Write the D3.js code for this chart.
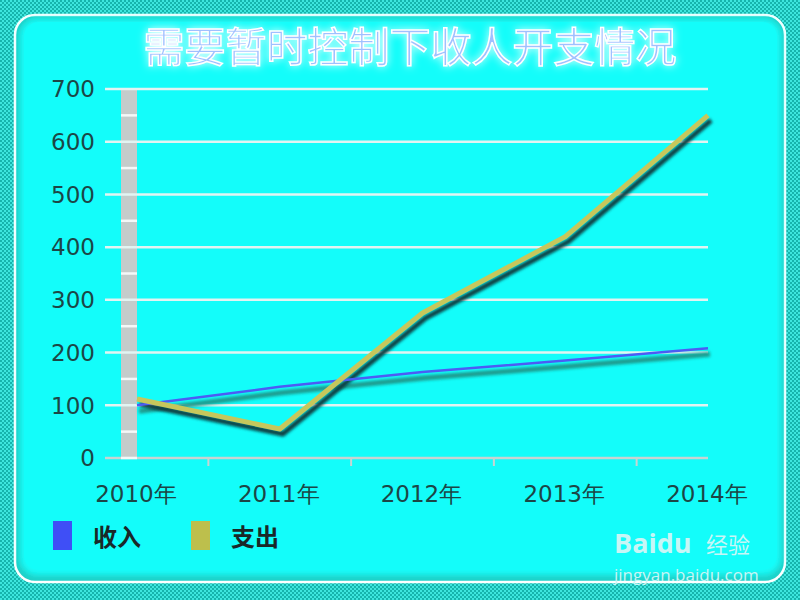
<!DOCTYPE html>
<meta charset="utf-8">
<style>
body { margin: 0; background: #1ec8c0; }
svg { display: block; }
.tick-label { font: 23px "DejaVu Sans", sans-serif; fill: #1c4646; }
</style>
<body>
<svg width="800" height="600"></svg>
<script src="https://d3js.org/d3.v7.min.js"></script>
<script>

var years = ["2010年", "2011年", "2012年", "2013年", "2014年"];
var income = [100, 135, 163, 185, 208];   // 收入
var expense = [112, 55, 275, 420, 650];   // 支出
var yTicks = [0, 100, 200, 300, 400, 500, 600, 700];

var svg = d3.select("svg");
var defs = svg.append("defs");

// checkered background
var pat = defs.append("pattern")
    .attr("id", "checker")
    .attr("width", 4).attr("height", 4)
    .attr("patternUnits", "userSpaceOnUse");
pat.append("rect").attr("width", 4).attr("height", 4).attr("fill", "#3ee6de");
pat.append("rect").attr("width", 2).attr("height", 2).attr("fill", "#16b4ac");
pat.append("rect").attr("x", 2).attr("y", 2).attr("width", 2).attr("height", 2).attr("fill", "#16b4ac");

var blur = defs.append("filter").attr("id", "blur")
    .attr("x", "-10%").attr("y", "-10%").attr("width", "120%").attr("height", "120%");
blur.append("feGaussianBlur").attr("stdDeviation", 1.6);

var glow = defs.append("filter").attr("id", "glow")
    .attr("x", "-10%").attr("y", "-40%").attr("width", "120%").attr("height", "180%");
glow.append("feGaussianBlur").attr("in", "SourceAlpha").attr("stdDeviation", 4).attr("result", "b");
glow.append("feFlood").attr("flood-color", "#ffffff").attr("flood-opacity", 0.9);
glow.append("feComposite").attr("in2", "b").attr("operator", "in").attr("result", "g");
var gm = glow.append("feMerge");
gm.append("feMergeNode").attr("in", "g");
gm.append("feMergeNode").attr("in", "SourceGraphic");

var inner = defs.append("filter").attr("id", "inner");
inner.append("feGaussianBlur").attr("stdDeviation", 3);

svg.append("rect").attr("width", 800).attr("height", 600).attr("fill", "url(#checker)");

// panel
svg.append("rect")
    .attr("x", 15).attr("y", 15).attr("width", 770).attr("height", 567)
    .attr("rx", 20).attr("fill", "#20cfc6")
    .attr("stroke", "#ffffff").attr("stroke-width", 2.5);
svg.append("rect")
    .attr("x", 20).attr("y", 19).attr("width", 761).attr("height", 556)
    .attr("rx", 17).attr("fill", "#13fdfa")
    .attr("filter", "url(#inner)");
svg.append("rect")
    .attr("x", 24).attr("y", 22).attr("width", 753).attr("height", 548)
    .attr("rx", 15).attr("fill", "#13fdfa");

// title
svg.append("text")
    .attr("x", 410).attr("y", 62)
    .attr("text-anchor", "middle")
    .attr("font-family", "Noto Sans CJK SC")
    .attr("font-size", 41)
    .attr("fill", "#9fc0ff")
    .attr("stroke", "#ffffff").attr("stroke-width", 1.5)
    .attr("filter", "url(#glow)")
    .text("需要暂时控制下收人开支情况");

var x = d3.scalePoint().domain(years).range([137, 708]);
var y = d3.scaleLinear().domain([0, 700]).range([458, 89]);
var step = x.step();

// left wall
svg.append("rect")
    .attr("x", 121).attr("y", y(700)).attr("width", 16).attr("height", y(0) - y(700))
    .attr("fill", "#c4cccb");
svg.append("g").selectAll("line")
    .data(d3.range(50, 700, 100))
    .join("line")
    .attr("x1", 121).attr("x2", 137)
    .attr("y1", d => y(d)).attr("y2", d => y(d))
    .attr("stroke", "#f4f8f8").attr("stroke-width", 2.5);

// gridlines
svg.append("g").selectAll("line")
    .data(yTicks.slice(1))
    .join("line")
    .attr("x1", 105).attr("x2", 708)
    .attr("y1", d => y(d)).attr("y2", d => y(d))
    .attr("stroke", "#e2f4f2").attr("stroke-width", 2.5);

// base line
svg.append("line")
    .attr("x1", 105).attr("x2", 708)
    .attr("y1", y(0)).attr("y2", y(0))
    .attr("stroke", "#c8d4d2").attr("stroke-width", 2.5);
svg.append("line")
    .attr("x1", 121).attr("x2", 137)
    .attr("y1", y(0)).attr("y2", y(0))
    .attr("stroke", "#f4f8f8").attr("stroke-width", 2.5);

svg.append("g").selectAll("line")
    .data(years.slice(1))
    .join("line")
    .attr("x1", d => x(d) - step / 2).attr("x2", d => x(d) - step / 2)
    .attr("y1", y(0)).attr("y2", y(0) + 8)
    .attr("stroke", "#c8d4d2").attr("stroke-width", 2);

// y labels
svg.append("g").selectAll("text")
    .data(yTicks)
    .join("text")
    .attr("class", "tick-label")
    .attr("x", 95).attr("y", d => y(d))
    .attr("dy", "0.36em")
    .attr("text-anchor", "end")
    .text(d => d);

// x labels
svg.append("g").selectAll("text")
    .data(years)
    .join("text")
    .attr("class", "tick-label")
    .attr("x", d => x(d) - 1).attr("y", 502)
    .attr("text-anchor", "middle")
    .attr("font-family", "'DejaVu Sans', 'Noto Sans CJK SC'")
    .text(d => d);

var line = d3.line()
    .x((d, i) => x(years[i]))
    .y(d => y(d));

// shadows
svg.append("path")
    .attr("d", line(income))
    .attr("transform", "translate(2,6)")
    .attr("fill", "none").attr("stroke", "#1c9a8c").attr("stroke-width", 5)
    .attr("filter", "url(#blur)");
svg.append("path")
    .attr("d", line(expense))
    .attr("transform", "translate(3,5)")
    .attr("fill", "none").attr("stroke", "#0a3c40").attr("stroke-width", 5)
    .attr("filter", "url(#blur)");

svg.append("path")
    .attr("d", line(income))
    .attr("fill", "none").attr("stroke", "#4c5cf4").attr("stroke-width", 2.5);
svg.append("path")
    .attr("d", line(expense))
    .attr("fill", "none").attr("stroke", "#c6c75c").attr("stroke-width", 5)
    .attr("stroke-linejoin", "round");

// legend
var legend = svg.append("g").selectAll("g")
    .data([{name: "收入", color: "#3f4ff6"}, {name: "支出", color: "#bdbf4c"}])
    .join("g")
    .attr("transform", (d, i) => "translate(" + (53 + i * 138) + ",521)");
legend.append("rect")
    .attr("width", 19).attr("height", 29)
    .attr("fill", d => d.color);
legend.append("text")
    .attr("x", 40).attr("y", 16)
    .attr("dy", "0.36em")
    .attr("font-family", "Noto Sans CJK SC")
    .attr("font-weight", "bold")
    .attr("font-size", 24)
    .attr("fill", "#1a2828")
    .text(d => d.name);

// watermark
var wm = svg.append("g").attr("fill", "#c8f6f6").attr("font-family", "'Open Sans', sans-serif");
wm.append("text").attr("x", 614).attr("y", 553).attr("font-size", 27).attr("font-weight", "bold").text("Baidu");
wm.append("text").attr("x", 706).attr("y", 553).attr("font-size", 22).attr("font-family", "Noto Sans CJK SC").text("经验");
wm.append("text").attr("x", 614).attr("y", 581).attr("font-size", 17).text("jingyan.baidu.com");

</script>
</body>
